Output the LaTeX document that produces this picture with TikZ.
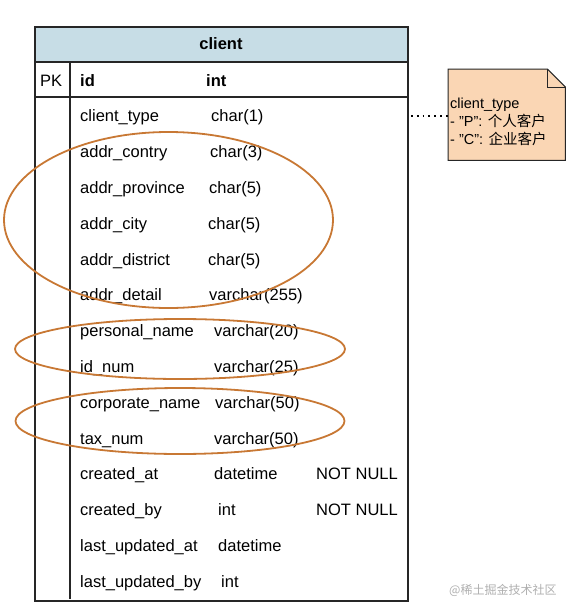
\documentclass[tikz,border=0pt]{standalone}
\usepackage{fontspec}
\setmainfont{Liberation Sans}
\newfontfamily\cjkfont{Noto Sans CJK SC}
\definecolor{hdrblue}{RGB}{199,221,230}
\definecolor{ovalorange}{RGB}{200,120,52}
\definecolor{notefill}{RGB}{250,214,180}
\definecolor{wmgray}{RGB}{175,175,175}
\newcommand{\sq}{\symbol{34}}
\begin{document}
\begin{tikzpicture}[x=1pt,y=-1pt,
  tline/.style={line width=1.2pt, black!85},
  cell/.style={anchor=base west, inner sep=0pt, font=\fontsize{16.5}{20}\selectfont},
  oval/.style={draw=ovalorange, line width=1.8pt},
  notetext/.style={anchor=north west, inner sep=0pt, align=left, font=\fontsize{14.5}{18}\selectfont}]
\useasboundingbox (0,0) rectangle (574,614);
% table
\node[draw=none, minimum width=373pt, minimum height=574pt, inner sep=0pt, anchor=north west] (table) at (35,27) {};
\fill[hdrblue] (35,27) rectangle (408,62);
\draw[tline] (35,27) rectangle (408,601);
\draw[tline] (35,62) -- (408,62);
\draw[tline] (35,97) -- (408,97);
\draw[tline] (70,62) -- (70,599);
\node[anchor=center, inner sep=0pt, font=\fontsize{16.5}{20}\selectfont\bfseries] (title) at (221,44) {client};
% PK row
\node[cell] (pk) at (40,86) {PK};
\node[cell, font=\fontsize{16.5}{20}\selectfont\bfseries] (idn) at (80,86) {id};
\node[cell, font=\fontsize{16.5}{20}\selectfont\bfseries] (idt) at (206,86) {int};
% rows
\foreach \i/\nm/\tp/\tx/\ex in {
  1/client\_type/char(1)/211/,
  2/addr\_contry/char(3)/210/,
  3/addr\_province/char(5)/209/,
  4/addr\_city/char(5)/208/,
  5/addr\_district/char(5)/208/,
  6/addr\_detail/varchar(255)/209/,
  7/personal\_name/varchar(20)/214/,
  8/id\_num/varchar(25)/214/,
  9/corporate\_name/varchar(50)/215/,
  10/tax\_num/varchar(50)/214/,
  11/created\_at/datetime/214/NOT NULL,
  12/created\_by/int/218/NOT NULL,
  13/last\_updated\_at/datetime/218/,
  14/last\_updated\_by/int/221/}{
  \pgfmathsetmacro{\yy}{86+35.8*\i}
  \node[cell] (n\i) at (80,\yy) {\nm};
  \node[cell] (t\i) at (\tx,\yy) {\tp};
  \node[cell] (e\i) at (316,\yy) {\ex};
}
% ovals
\draw[oval] (168.5,220) ellipse [x radius=164.5, y radius=88];
\draw[oval] (180,349) ellipse [x radius=165, y radius=30];
\draw[oval] (180,421) ellipse [x radius=164.5, y radius=33];
% note
\node[draw=none, minimum width=117pt, minimum height=91pt, inner sep=0pt, anchor=north west] (note) at (448,69) {};
\filldraw[fill=notefill, draw=black!85, line width=1pt]
  (note.north west) -- ([xshift=-18pt]note.north east) -- ([yshift=-18pt]note.north east)
  -- (note.south east) -- (note.south west) -- cycle;
\draw[black!85, line width=1pt] ([xshift=-18pt]note.north east) -- ([xshift=-18pt,yshift=-18pt]note.north east) -- ([yshift=-18pt]note.north east);
\node[notetext] (notetxt) at (450,98) {client\_type\\- \sq P\sq: {\cjkfont 个人客户}\\- \sq C\sq: {\cjkfont 企业客户}};
% connector
\coordinate (c1) at (411,116);
\draw[line width=1.8pt, dash pattern=on 1.8pt off 4pt] (c1) -- (c1 -| note.west);
% watermark
\node[anchor=west, inner sep=0pt, text=wmgray, font=\fontsize{12}{14}\selectfont\cjkfont] (wm) at (449,590) {@稀土掘金技术社区};
\end{tikzpicture}
\end{document}
